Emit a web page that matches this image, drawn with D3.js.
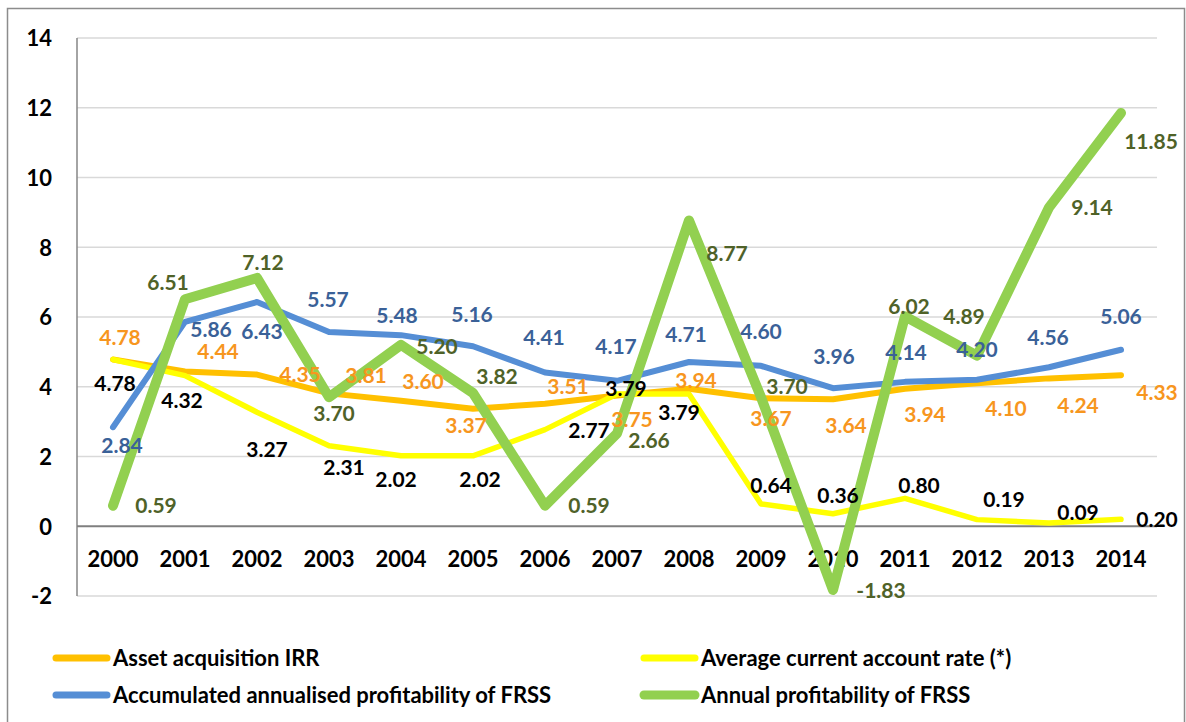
<!DOCTYPE html>
<html>
<head>
<meta charset="utf-8">
<script src="https://cdn.jsdelivr.net/npm/d3@7"></script>
<style>
  body { margin: 0; background: #fff; }
  svg { display: block; font-family: Lato, "Open Sans", sans-serif; font-weight: bold; }
</style>
</head>
<body>
<script>
// categories
var years = ["2000", "2001", "2002", "2003", "2004", "2005", "2006", "2007",
             "2008", "2009", "2010", "2011", "2012", "2013", "2014"];

// series values
var assetIrr = [4.78, 4.44, 4.35, 3.81, 3.60, 3.37, 3.51, 3.75, 3.94, 3.67, 3.64, 3.94, 4.10, 4.24, 4.33];
var currentRate = [4.78, 4.32, 3.27, 2.31, 2.02, 2.02, 2.77, 3.79, 3.79, 0.64, 0.36, 0.80, 0.19, 0.09, 0.20];
var accumProfit = [2.84, 5.86, 6.43, 5.57, 5.48, 5.16, 4.41, 4.17, 4.71, 4.60, 3.96, 4.14, 4.20, 4.56, 5.06];
var annualProfit = [0.59, 6.51, 7.12, 3.70, 5.20, 3.82, 0.59, 2.66, 8.77, 3.70, -1.83, 6.02, 4.89, 9.14, 11.85];

var yTicks = [-2, 0, 2, 4, 6, 8, 10, 12, 14];

var seriesNames = ["Asset acquisition IRR",
                   "Average current account rate (*)",
                   "Accumulated annualised profitability of FRSS",
                   "Annual profitability of FRSS"];

// label nudges (px) relative to each point, the labels were hand placed in the original
var irrNudge = [[7,-22],[33,-20],[43,0],[37,-18],[22,-19],[-7,17],[23,-17],[15,24],[7,-8],[10,20],[13,26],[20,26],[29,25],[29,27],[36,17]];
var rateNudge = [[2,24],[-3,25],[10,37],[15,22],[-5,24],[7,24],[44,1],[9,-6],[-10,18],[10,-18],[5,-18],[14,-13],[27,-20],[29,-11],[36,0]];
var accumNudge = [[9,18],[26,8],[5,29],[-1,-33],[-4,-20],[-1,-32],[-1,-35],[-1,-34],[-3,-28],[0,-34],[1,-32],[1,-29],[0,-30],[-1,-30],[0,-33]];
var annualNudge = [[43,0],[-17,-17],[6,-16],[5,16],[36,2],[24,-17],[44,0],[32,7],[38,33],[26,-11],[48,0],[4,-10],[-13,-39],[43,0],[30,28]];

var margin = {top: 38, right: 29, bottom: 126, left: 77},
    width = 1186 - margin.left - margin.right,
    height = 722 - margin.top - margin.bottom;

var x = d3.scaleBand()
    .domain(years)
    .range([0, width])
    .padding(0);

var y = d3.scaleLinear()
    .domain([-2, 14])
    .range([height, 0]);

function cx(i) { return x(years[i]) + x.bandwidth() / 2; }

// plain hyphen for negatives, like the original
function hyphen(f) { return function(d) { return f(d).replace("\u2212", "-"); }; }

var svg0 = d3.select("body").append("svg")
    .attr("width", 1186)
    .attr("height", 722);

// outer frame of the chart
svg0.append("rect")
    .attr("x", 7.5)
    .attr("y", 8.5)
    .attr("width", 1177)
    .attr("height", 730)
    .attr("fill", "#fff")
    .attr("stroke", "#8c8c8c")
    .attr("stroke-width", 1.5);

var svg = svg0.append("g")
    .attr("transform", "translate(" + margin.left + "," + margin.top + ")");

// gridlines
svg.append("g")
    .attr("class", "grid")
    .selectAll("line")
    .data(yTicks.filter(function(d) { return d != 0; }))
    .enter()
    .append("line")
    .attr("x1", 0)
    .attr("x2", width)
    .attr("y1", function(d) { return y(d); })
    .attr("y2", function(d) { return y(d); })
    .attr("stroke", "#d9d9d9")
    .attr("stroke-width", 1.5);

// Y axis (labels only, plus the vertical line)
var yAxis = svg.append("g")
    .attr("class", "y axis")
    .call(d3.axisLeft(y).tickValues(yTicks).tickSize(0).tickPadding(25).tickFormat(hyphen(d3.format("d"))));
yAxis.select(".domain").remove();
yAxis.selectAll("text")
    .attr("dy", "0.36em")
    .style("font-family", "Lato, 'Open Sans', sans-serif")
    .style("font-weight", "bold")
    .style("font-size", "22px")
    .attr("fill", "#000");

svg.append("line")
    .attr("x1", 0).attr("x2", 0)
    .attr("y1", 0).attr("y2", height)
    .attr("stroke", "#868686")
    .attr("stroke-width", 1.5);

// zero line
svg.append("line")
    .attr("x1", 0).attr("x2", width)
    .attr("y1", y(0)).attr("y2", y(0))
    .attr("stroke", "#7f7f7f")
    .attr("stroke-width", 2);

// X axis sits on the zero line
var xAxis = svg.append("g")
    .attr("class", "x axis")
    .attr("transform", "translate(0," + y(0) + ")")
    .call(d3.axisBottom(x).tickSize(0));
xAxis.select(".domain").remove();
xAxis.selectAll("text")
    .attr("y", 33)
    .attr("dy", "0.36em")
    .style("font-family", "Lato, 'Open Sans', sans-serif")
    .style("font-weight", "bold")
    .style("font-size", "22px")
    .attr("fill", "#000");

// series (drawn in legend order, so green ends up on top)
var series = [
    {name: seriesNames[0], values: assetIrr, nudge: irrNudge, line: "#ffc000", width: 6, label: "#f7961e"},
    {name: seriesNames[1], values: currentRate, nudge: rateNudge, line: "#ffff00", width: 5.5, label: "#000000"},
    {name: seriesNames[2], values: accumProfit, nudge: accumNudge, line: "#558ed5", width: 6, label: "#3a6198"},
    {name: seriesNames[3], values: annualProfit, nudge: annualNudge, line: "#92d050", width: 10, label: "#4f6228"}
];

var valueLine = d3.line()
    .x(function(d, i) { return cx(i); })
    .y(function(d) { return y(d); });

series.forEach(function(s) {
    svg.append("path")
        .datum(s.values)
        .attr("class", "line")
        .attr("d", valueLine)
        .attr("fill", "none")
        .attr("stroke", s.line)
        .attr("stroke-width", s.width)
        .attr("stroke-linecap", "round")
        .attr("stroke-linejoin", "round");
});

// data labels on top of all lines
var fmt = hyphen(d3.format(".2f"));
series.forEach(function(s) {
    svg.append("g")
        .attr("class", "labels")
        .selectAll("text")
        .data(s.values)
        .enter()
        .append("text")
        .attr("x", function(d, i) { return cx(i) + s.nudge[i][0]; })
        .attr("y", function(d, i) { return y(d) + s.nudge[i][1]; })
        .attr("dy", "0.36em")
        .attr("text-anchor", "middle")
        .attr("fill", s.label)
        .style("font-size", "21px")
        .text(function(d) { return fmt(d); });
});

// legend, two columns
var legendPos = [[53, 658], [641, 658], [53, 695], [641, 695]];
var legend = svg0.append("g").attr("class", "legend");
series.forEach(function(s, i) {
    var p = legendPos[i];
    legend.append("line")
        .attr("x1", p[0] + 3).attr("x2", p[0] + 54)
        .attr("y1", p[1]).attr("y2", p[1])
        .attr("stroke", s.line)
        .attr("stroke-width", i == 3 ? 9 : 7)
        .attr("stroke-linecap", "round");
    legend.append("text")
        .attr("x", p[0] + 60)
        .attr("y", p[1])
        .attr("dy", "0.36em")
        .attr("fill", "#000")
        .style("font-size", "22px")
        .text(s.name);
});
</script>
</body>
</html>
